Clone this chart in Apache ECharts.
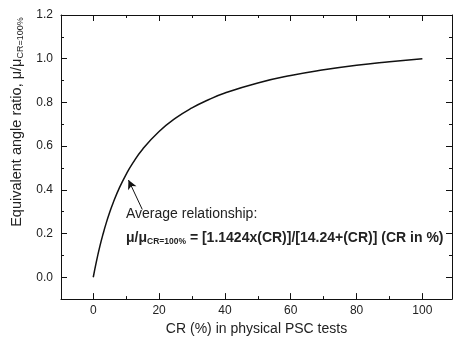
<!DOCTYPE html>
<html>
<head>
<meta charset="utf-8">
<script src="https://cdn.jsdelivr.net/npm/echarts@6/dist/echarts.min.js"></script>
</head>
<body style="margin:0">
<div id="chart" style="width:456px;height:341px"></div>
<script>
// curve
var crValues = [0, 1, 2, 3, 4, 5, 6, 8, 10, 12, 15, 20, 25, 30, 35, 40, 50, 60, 70, 80, 90, 100];
var ratioValues = [0, 0.075, 0.141, 0.199, 0.251, 0.297, 0.339, 0.411, 0.471, 0.522, 0.586, 0.667,
	0.728, 0.775, 0.812, 0.843, 0.889, 0.923, 0.949, 0.970, 0.986, 1.0];

// arrow of the annotation, tail then head
var arrowPoints = [[14.9, 0.31], [10.7, 0.445]];

var FONT = '"Liberation Sans", Arial, sans-serif';
var XMIN = -9.8, XMAX = 109, YMIN = -0.1, YMAX = 1.2;
var INK = '#111';

var subRich = {
	a: { fontSize: 14, fontFamily: FONT, color: '#222', lineHeight: 18 },
	s: { fontSize: 8.5, fontFamily: FONT, color: '#222', padding: [8, 0, 0, 0], lineHeight: 18 }
};

// no interval set: ticks fall on nice values (0, 20, ... / 0, 0.2, ...)
function xAxisDef(pos, withLabels) {
	var ax = {
		type: 'value', position: pos, min: XMIN, max: XMAX, splitNumber: 5,
		axisLine: { show: true, onZero: false, lineStyle: { color: INK } },
		axisTick: { show: true, inside: true, length: 6, lineStyle: { color: INK } },
		minorTick: { show: true, splitNumber: 2, length: 3, lineStyle: { color: INK } },
		axisLabel: withLabels ? {
			show: true, color: '#222', fontSize: 12, fontFamily: FONT, margin: 6,
			showMinLabel: false, showMaxLabel: false
		} : { show: false },
		splitLine: { show: false }
	};
	if (withLabels) {
		ax.name = 'CR (%) in physical PSC tests';
		ax.nameLocation = 'middle';
		ax.nameGap = 22;
		ax.nameTextStyle = { fontSize: 14, fontFamily: FONT, color: '#222' };
	}
	return ax;
}

function yAxisDef(pos, withLabels) {
	var ax = {
		type: 'value', position: pos, min: YMIN, max: YMAX, splitNumber: 6,
		axisLine: { show: true, onZero: false, lineStyle: { color: INK } },
		axisTick: { show: true, inside: true, length: 6, lineStyle: { color: INK } },
		minorTick: { show: true, splitNumber: 2, length: 3, lineStyle: { color: INK } },
		axisLabel: withLabels ? {
			show: true, color: '#222', fontSize: 12, fontFamily: FONT, margin: 8,
			showMinLabel: false,
			formatter: function (v) { return v.toFixed(1); }
		} : { show: false },
		splitLine: { show: false }
	};
	if (withLabels) {
		ax.name = '{a|Equivalent angle ratio, μ/μ}{s|CR=100%}';
		ax.nameLocation = 'middle';
		ax.nameRotate = 90;
		ax.nameGap = 30;
		ax.nameTextStyle = {
			padding: [0, 0, 0, 70],
			rich: {
				a: { fontSize: 14.5, fontFamily: FONT, color: '#222', lineHeight: 18 },
				s: { fontSize: 9, fontFamily: FONT, color: '#222', padding: [8, 0, 0, 0], lineHeight: 18 }
			}
		};
	}
	return ax;
}

var chart = echarts.init(document.getElementById('chart'));

var option = {
	animation: false,
	title: [
		{
			text: 'Average relationship:', left: 126, top: 207, padding: 0,
			textStyle: { fontSize: 14, fontFamily: FONT, color: '#222', fontWeight: 'normal' }
		},
		{
			text: '{a|μ/μ}{s|CR=100%}{a| = [1.1424x(CR)]/[14.24+(CR)] (CR in %)}',
			left: 126, top: 229, padding: 0,
			textStyle: { rich: subRich }
		}
	],
	grid: { left: 61, right: 4, top: 15, bottom: 39 },
	xAxis: [xAxisDef('bottom', true), xAxisDef('top', false)],
	yAxis: [yAxisDef('left', true), yAxisDef('right', false)],
	series: [{
		type: 'line',
		data: crValues.map(function (x, i) { return [x, ratioValues[i]]; }),
		smooth: true,
		showSymbol: false,
		lineStyle: { color: INK, width: 1.5 },
		markLine: {
			silent: true,
			symbol: ['none', 'arrow'],
			symbolSize: [7, 9],
			label: { show: false },
			lineStyle: { color: INK, width: 1, type: 'solid' },
			data: [[{ coord: arrowPoints[0] }, { coord: arrowPoints[1] }]]
		}
	}]
};

chart.setOption(option);
</script>
</body>
</html>
